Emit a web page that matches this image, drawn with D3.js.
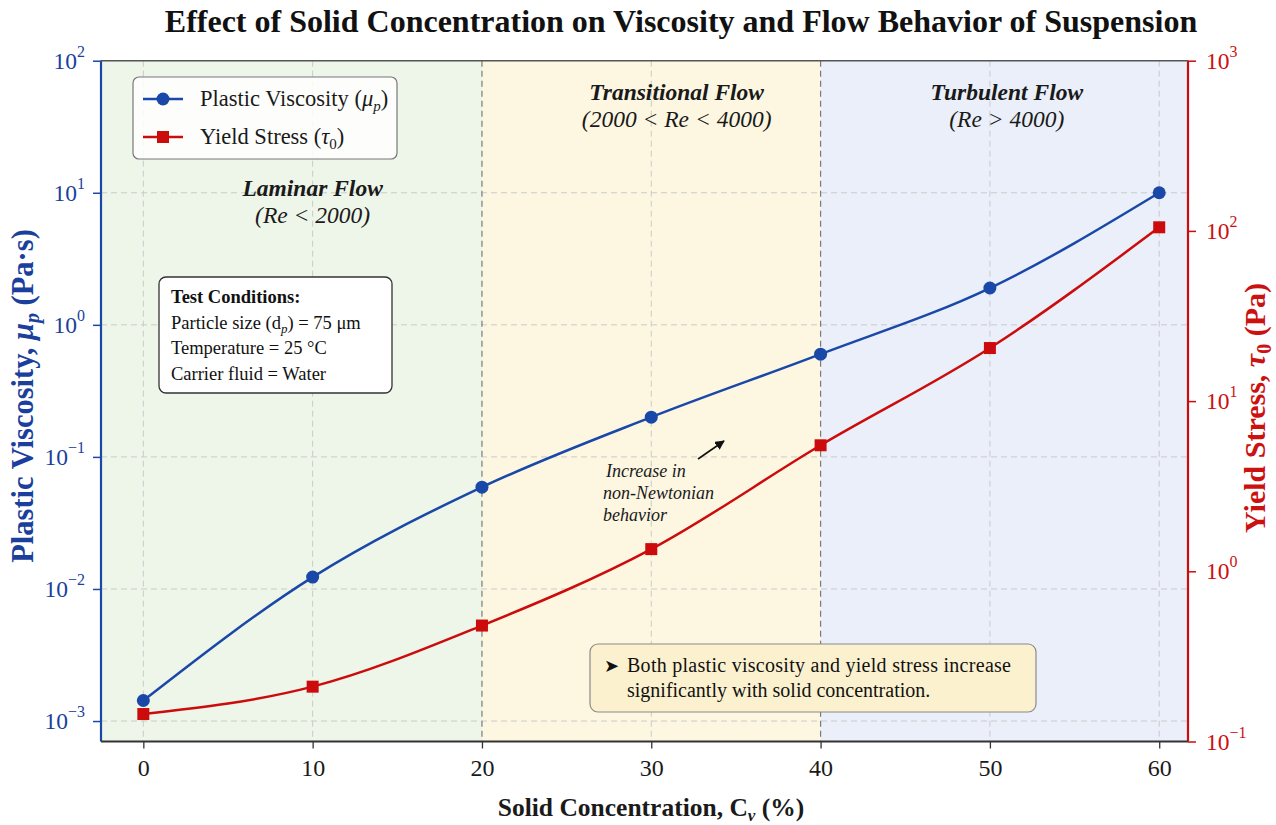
<!DOCTYPE html>
<html>
<head>
<meta charset="utf-8">
<script src="https://cdn.jsdelivr.net/npm/d3@7"></script>
<style>
  html, body { margin: 0; padding: 0; background: #ffffff; }
  svg { display: block; font-family: "Liberation Serif", "DejaVu Serif", serif; }
</style>
</head>
<body>
<svg id="chart" width="1276" height="825"></svg>
<script>
// ---------------- data ----------------
const concentration = [0, 10, 20, 30, 40, 50, 60];
const plasticViscosity = [0.00143, 0.0123, 0.059, 0.2, 0.6, 1.9, 10];
const yieldStress = [0.145, 0.21, 0.48, 1.35, 5.5, 20.5, 105];
const xTickValues = [0, 10, 20, 30, 40, 50, 60];
const leftTickValues = [1e-3, 1e-2, 1e-1, 1, 10, 100];
const rightTickValues = [0.1, 1, 10, 100, 1000];
const regionNames = ["Laminar Flow", "Transitional Flow", "Turbulent Flow"];
const regionRe = ["(Re < 2000)", "(2000 < Re < 4000)", "(Re > 4000)"];
const regionBounds = [20, 40];
const testConditions = ["Test Conditions:", "Particle size", "Temperature = 25 °C", "Carrier fluid = Water"];
const noteLines = ["Both plastic viscosity and yield stress increase", "significantly with solid concentration."];
const annotationLines = ["Increase in", "non-Newtonian", "behavior"];

// ---------------- layout ----------------
const plot = { left: 101, right: 1188, top: 60.7, bottom: 741.5 };
const blue = "#1a48a8", red = "#cc0c0c", blueText = "#1b3f9c", redText = "#cc1111";

const svg = d3.select("#chart");

const xDomain = [-2.5, 61.7];
const x = d3.scaleLinear().domain(xDomain).range([plot.left, plot.right]);
const yL = d3.scaleLog().domain([7e-4, 100]).range([plot.bottom, plot.top]);
const yR = d3.scaleLog().domain([0.1, 1000]).range([plot.bottom, plot.top]);

// ---------------- region backgrounds ----------------
const regionFills = ["#eef5e9", "#fdf7e2", "#eaeff9"];
const edges = [xDomain[0], regionBounds[0], regionBounds[1], xDomain[1]];
svg.append("g").selectAll("rect").data(regionFills).join("rect")
  .attr("x", (d, i) => x(edges[i]))
  .attr("y", plot.top)
  .attr("width", (d, i) => x(edges[i + 1]) - x(edges[i]))
  .attr("height", plot.bottom - plot.top)
  .attr("fill", d => d);

// ---------------- grid ----------------
const grid = svg.append("g").attr("stroke", "#cacaca").attr("stroke-width", 1).attr("stroke-dasharray", "6,4");
grid.selectAll("line.h").data(leftTickValues.filter(v => v < 100)).join("line")
  .attr("x1", plot.left).attr("x2", plot.right)
  .attr("y1", d => yL(d)).attr("y2", d => yL(d));
grid.selectAll("line.v").data(xTickValues.filter(v => !regionBounds.includes(v))).join("line")
  .attr("x1", d => x(d)).attr("x2", d => x(d))
  .attr("y1", plot.top).attr("y2", plot.bottom);

svg.append("g").selectAll("line").data(regionBounds).join("line")
  .attr("x1", d => x(d)).attr("x2", d => x(d))
  .attr("y1", plot.top).attr("y2", plot.bottom)
  .attr("stroke", "#7a7a7a").attr("stroke-width", 1.2).attr("stroke-dasharray", "6,4");

// ---------------- region labels ----------------
const regionCenters = [10, 31.5, 51];
const regionY = [196, 100, 100];
regionNames.forEach((n, i) => {
  const t = svg.append("text").attr("text-anchor", "middle")
    .attr("font-size", 23.5).attr("fill", "#1a1a1a");
  t.append("tspan").attr("x", x(regionCenters[i])).attr("y", regionY[i])
    .attr("font-weight", "bold").attr("font-style", "italic").text(n);
  t.append("tspan").attr("x", x(regionCenters[i])).attr("y", regionY[i] + 27)
    .attr("font-style", "italic").text(regionRe[i]);
});

// ---------------- axes ----------------
function supFormat(sel) {
  sel.selectAll(".tick text").each(function (d) {
    const e = Math.round(Math.log10(d));
    const t = d3.select(this).text(null);
    t.append("tspan").text("10");
    t.append("tspan").attr("dy", "-0.75em").attr("font-size", "0.68em").text(e < 0 ? "\u2212" + (-e) : String(e));
  });
}
function minorValues(domain) {
  const out = [];
  for (let e = -4; e <= 3; e++) for (let m = 2; m <= 9; m++) {
    const v = m * Math.pow(10, e);
    if (v >= domain[0] && v <= domain[1]) out.push(v);
  }
  return out;
}

// left axis
const gL = svg.append("g").attr("transform", `translate(${plot.left},0)`);
gL.call(d3.axisLeft(yL).tickValues(minorValues(yL.domain())).tickSize(4).tickFormat(""));
gL.call(d3.axisLeft(yL).tickValues(leftTickValues).tickSize(8).tickPadding(8));
gL.selectAll("path").attr("stroke", blue).attr("stroke-width", 2.2);
gL.selectAll("line").attr("stroke", blue).attr("stroke-width", 1.5);
gL.selectAll("text").attr("fill", blueText).attr("font-size", 23.5).attr("font-family", "Liberation Serif");
supFormat(gL);
gL.select(".domain").attr("d", `M0,${plot.top}V${plot.bottom}`);

// right axis
const gR = svg.append("g").attr("transform", `translate(${plot.right},0)`);
gR.call(d3.axisRight(yR).tickValues(minorValues(yR.domain())).tickSize(4).tickFormat(""));
gR.call(d3.axisRight(yR).tickValues(rightTickValues).tickSize(8).tickPadding(10));
gR.selectAll("path").attr("stroke", red).attr("stroke-width", 2.2);
gR.selectAll("line").attr("stroke", red).attr("stroke-width", 1.5);
gR.selectAll("text").attr("fill", redText).attr("font-size", 23.5).attr("font-family", "Liberation Serif");
supFormat(gR);
gR.select(".domain").attr("d", `M0,${plot.top}V${plot.bottom}`);

// bottom axis
const gB = svg.append("g").attr("transform", `translate(0,${plot.bottom})`);
gB.call(d3.axisBottom(x).tickValues(xTickValues).tickSize(7).tickPadding(10));
gB.select(".domain").attr("d", `M${plot.left},0H${plot.right}`).attr("stroke", "#333").attr("stroke-width", 2);
gB.selectAll("line").attr("stroke", "#333").attr("stroke-width", 1.3);
gB.selectAll("text").attr("fill", "#1a1a1a").attr("font-size", 24).attr("font-family", "Liberation Serif");

// top spine
svg.append("line").attr("x1", plot.left).attr("x2", plot.right).attr("y1", plot.top).attr("y2", plot.top)
  .attr("stroke", "#555").attr("stroke-width", 1.6);

// ---------------- series ----------------
const visc = concentration.map((c, i) => [c, plasticViscosity[i]]);
const ys = concentration.map((c, i) => [c, yieldStress[i]]);
const lineL = d3.line().x(d => x(d[0])).y(d => yL(d[1])).curve(d3.curveMonotoneX);
const lineR = d3.line().x(d => x(d[0])).y(d => yR(d[1])).curve(d3.curveMonotoneX);

svg.append("path").datum(ys).attr("d", lineR).attr("fill", "none").attr("stroke", red).attr("stroke-width", 2.5);
svg.append("path").datum(visc).attr("d", lineL).attr("fill", "none").attr("stroke", blue).attr("stroke-width", 2.5);
svg.append("g").selectAll("rect").data(ys).join("rect")
  .attr("x", d => x(d[0]) - 6).attr("y", d => yR(d[1]) - 6).attr("width", 12).attr("height", 12)
  .attr("fill", red);
svg.append("g").selectAll("circle").data(visc).join("circle")
  .attr("cx", d => x(d[0])).attr("cy", d => yL(d[1])).attr("r", 6.5)
  .attr("fill", blue);

// ---------------- legend ----------------
const lg = svg.append("g");
lg.append("rect").attr("x", 133).attr("y", 77).attr("width", 264).attr("height", 82).attr("rx", 6)
  .attr("fill", "rgba(255,255,255,0.85)").attr("stroke", "#777").attr("stroke-width", 1.2);
lg.append("line").attr("x1", 143).attr("x2", 183).attr("y1", 99).attr("y2", 99).attr("stroke", blue).attr("stroke-width", 2.5);
lg.append("circle").attr("cx", 163).attr("cy", 99).attr("r", 6.5).attr("fill", blue);
lg.append("line").attr("x1", 143).attr("x2", 183).attr("y1", 137).attr("y2", 137).attr("stroke", red).attr("stroke-width", 2.5);
lg.append("rect").attr("x", 157).attr("y", 131).attr("width", 12).attr("height", 12).attr("fill", red);
const l1 = lg.append("text").attr("x", 200).attr("y", 106).attr("font-size", 22.5).attr("fill", "#1a1a1a");
l1.append("tspan").text("Plastic Viscosity (");
l1.append("tspan").attr("font-style", "italic").text("μ");
l1.append("tspan").attr("font-style", "italic").attr("font-size", 15).attr("dy", 5).text("p");
l1.append("tspan").attr("dy", -5).text(")");
const l2 = lg.append("text").attr("x", 200).attr("y", 144).attr("font-size", 22.5).attr("fill", "#1a1a1a");
l2.append("tspan").text("Yield Stress (");
l2.append("tspan").attr("font-style", "italic").text("τ");
l2.append("tspan").attr("font-size", 15).attr("dy", 5).text("0");
l2.append("tspan").attr("dy", -5).text(")");

// ---------------- test conditions box ----------------
const tc = svg.append("g");
tc.append("rect").attr("x", 159).attr("y", 277).attr("width", 233).attr("height", 116).attr("rx", 7)
  .attr("fill", "#ffffff").attr("stroke", "#333").attr("stroke-width", 1.3);
tc.append("text").attr("x", 171).attr("y", 303).attr("font-size", 18.5).attr("font-weight", "bold").attr("fill", "#111").text(testConditions[0]);
const tl = tc.append("text").attr("x", 171).attr("y", 328.5).attr("font-size", 18.5).attr("fill", "#111");
tl.append("tspan").text(testConditions[1] + " (d");
tl.append("tspan").attr("font-style", "italic").attr("font-size", 13).attr("dy", 4).text("p");
tl.append("tspan").attr("dy", -4).text(") = 75 μm");
tc.append("text").attr("x", 171).attr("y", 354).attr("font-size", 18.5).attr("fill", "#111").text(testConditions[2]);
tc.append("text").attr("x", 171).attr("y", 380).attr("font-size", 18.5).attr("fill", "#111").text(testConditions[3]);

// ---------------- annotation ----------------
const an = svg.append("text").attr("font-size", 18).attr("font-style", "italic").attr("fill", "#1a1a1a");
annotationLines.forEach((s, i) => an.append("tspan").attr("x", i === 0 ? 606 : 603).attr("y", 477 + i * 22).text(s));
svg.append("defs").append("marker").attr("id", "arr").attr("viewBox", "0 0 10 10").attr("refX", 9).attr("refY", 5)
  .attr("markerWidth", 6).attr("markerHeight", 6).attr("orient", "auto")
  .append("path").attr("d", "M0,0L10,5L0,10z").attr("fill", "#111");
svg.append("line").attr("x1", 698).attr("y1", 459).attr("x2", 724).attr("y2", 441)
  .attr("stroke", "#111").attr("stroke-width", 1.6).attr("marker-end", "url(#arr)");

// ---------------- note box ----------------
const nb = svg.append("g");
nb.append("rect").attr("x", 590).attr("y", 644).attr("width", 446).attr("height", 68).attr("rx", 8)
  .attr("fill", "#fcf1cf").attr("stroke", "#8a8a8a").attr("stroke-width", 1.2);
nb.append("text").attr("x", 604).attr("y", 672).attr("font-size", 18).attr("fill", "#111").text("\u27A4");
nb.append("text").attr("x", 627).attr("y", 672).attr("font-size", 20).attr("fill", "#111")
  .attr("textLength", 384).attr("lengthAdjust", "spacing").text(noteLines[0]);
nb.append("text").attr("x", 627).attr("y", 697).attr("font-size", 20).attr("fill", "#111").text(noteLines[1]);

// ---------------- titles ----------------
svg.append("text").attr("x", 681).attr("y", 32).attr("text-anchor", "middle")
  .attr("font-size", 32).attr("font-weight", "bold").attr("fill", "#111")
  .text("Effect of Solid Concentration on Viscosity and Flow Behavior of Suspension");

const xl = svg.append("text").attr("x", 651).attr("y", 816).attr("text-anchor", "middle")
  .attr("font-size", 25.5).attr("font-weight", "bold").attr("fill", "#1a1a1a");
xl.append("tspan").text("Solid Concentration, C");
xl.append("tspan").attr("font-style", "italic").attr("font-size", 17).attr("dy", 5).text("v");
xl.append("tspan").attr("dy", -5).text(" (%)");

const ylab = svg.append("text").attr("transform", "translate(33,396) rotate(-90)").attr("text-anchor", "middle")
  .attr("font-size", 30.5).attr("font-weight", "bold").attr("fill", blueText);
ylab.append("tspan").text("Plastic Viscosity, ");
ylab.append("tspan").attr("font-style", "italic").text("μ");
ylab.append("tspan").attr("font-style", "italic").attr("font-size", 20).attr("dy", 6).text("p");
ylab.append("tspan").attr("dy", -6).text(" (Pa·s)");

const yrlab = svg.append("text").attr("transform", "translate(1265,408) rotate(-90)").attr("text-anchor", "middle")
  .attr("font-size", 30).attr("font-weight", "bold").attr("fill", redText);
yrlab.append("tspan").text("Yield Stress, ");
yrlab.append("tspan").attr("font-style", "italic").text("τ");
yrlab.append("tspan").attr("font-size", 20).attr("dy", 6).text("0");
yrlab.append("tspan").attr("dy", -6).text(" (Pa)");
</script>
</body>
</html>
